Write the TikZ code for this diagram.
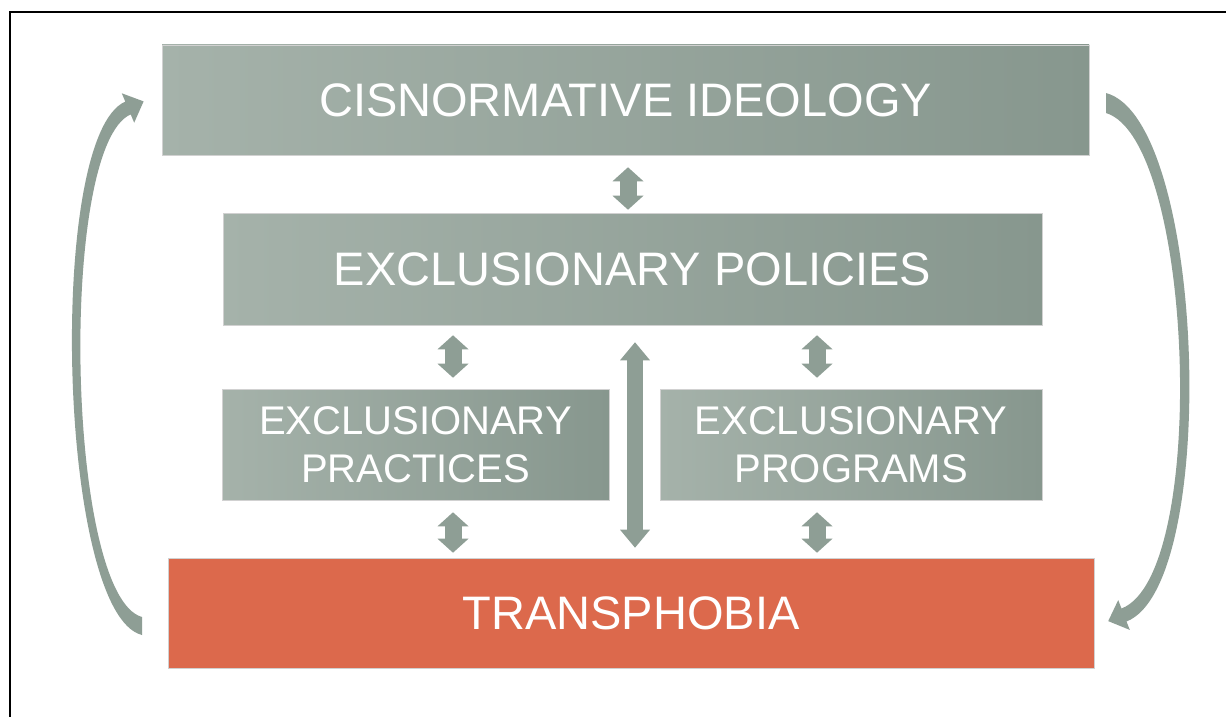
\documentclass[tikz,border=0pt]{standalone}
\usepackage{fontspec}
\setmainfont{Liberation Sans}
\usetikzlibrary{arrows.meta,calc}
\definecolor{boxlight}{HTML}{A5B2AA}
\definecolor{boxdark}{HTML}{87978E}
\definecolor{arrowgrey}{HTML}{8E9E95}
\definecolor{phobia}{HTML}{DC694C}

\begin{document}
\begin{tikzpicture}[x=1pt,y=-1pt,
  tier/.style={rectangle, inner sep=0pt, text=white,
    left color=boxlight, right color=boxdark,
    draw=black!18, line width=0.6pt,
    font=\fontsize{47}{50}\selectfont},
  subtier/.style={tier, align=center, font=\fontsize{40}{48}\selectfont},
  hot/.style={tier, left color=phobia, right color=phobia},
  pairlink/.style={arrowgrey, line width=17pt,
    {Triangle[width=31pt,length=14pt,line width=0pt]}-{Triangle[width=31pt,length=14pt,line width=0pt]}},
  longlink/.style={arrowgrey, line width=16pt,
    {Triangle[width=30pt,length=18pt,line width=0pt]}-{Triangle[width=30pt,length=18pt,line width=0pt]}},
  cyclearrow/.style={fill=arrowgrey}]

\useasboundingbox (0,0) rectangle (1226,717);
\fill[white] (0,0) rectangle (1226,717);

% frame
\draw[line width=2pt] (10,717) -- (10,12) -- (1226,12);

% tiers
\node[tier, minimum width=927pt, minimum height=110pt] (ideology) at (625.5,100) {CISNORMATIVE IDEOLOGY};
\node[tier, minimum width=819pt, minimum height=112pt] (policies) at (632.5,269) {EXCLUSIONARY POLICIES};
\node[subtier, minimum width=387pt, minimum height=111pt] (practices) at (415.5,444.5) {EXCLUSIONARY\\PRACTICES};
\node[subtier, minimum width=382pt, minimum height=111pt] (programs) at (851,444.5) {EXCLUSIONARY\\PROGRAMS};
\node[hot, minimum width=926pt, minimum height=110pt] (transphobia) at (631,613) {TRANSPHOBIA};

% columns of the two-way arrows
\coordinate (cTop) at (628,0);
\coordinate (cL) at (453,0);
\coordinate (cR) at (817,0);
\coordinate (cMid) at (635,0);

\draw[pairlink, shorten <=12pt, shorten >=3pt] (ideology.south -| cTop) -- (policies.north -| cTop);
\draw[pairlink, shorten <=10pt, shorten >=11pt] (policies.south -| cL) -- (practices.north -| cL);
\draw[pairlink, shorten <=12pt, shorten >=5pt] (practices.south -| cL) -- (transphobia.north -| cL);
\draw[pairlink, shorten <=10pt, shorten >=11pt] (policies.south -| cR) -- (programs.north -| cR);
\draw[pairlink, shorten <=12pt, shorten >=5pt] (programs.south -| cR) -- (transphobia.north -| cR);
\draw[longlink, shorten <=17pt, shorten >=10pt] (policies.south -| cMid) -- (transphobia.north -| cMid);

% feedback loop, left side: transphobia back up to ideology
\fill[cyclearrow] (142,617) -- (142,635)
  .. controls (58,614) and (46,136) .. (125.3,101.6)
  -- (121.8,93.3) -- (143.6,101.4) -- (134.2,122.7) -- (130.7,114.4)
  .. controls (58,146) and (66,596) .. (142,617) -- cycle;

% feedback loop, right side: ideology down to transphobia
\fill[cyclearrow] (1106,113) -- (1106,93)
  .. controls (1206,120) and (1220,585) .. (1126.5,621.5)
  -- (1129.8,629.9) -- (1108.2,621.1) -- (1118.2,600.1) -- (1121.5,608.5)
  .. controls (1209,575) and (1194,140) .. (1106,113) -- cycle;

\end{tikzpicture}
\end{document}
